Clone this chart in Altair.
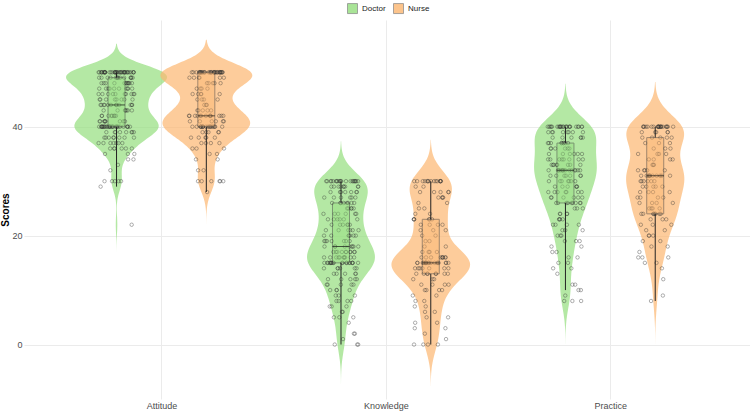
import altair as alt
import pandas as pd
import numpy as np

categories = ["Attitude", "Knowledge", "Practice"]
groups = ["Doctor", "Nurse"]
group_colors = ["#94DE7E", "#FCB670"]

# score values and how many respondents had each score
attitude_doctor_scores = [22, 29, 30, 32, 33, 34, 35, 36, 37, 38, 39, 40, 41, 42, 43, 44, 45, 46, 47, 48, 49, 50]
attitude_doctor_counts = [1, 1, 5, 1, 1, 2, 3, 6, 7, 8, 8, 28, 9, 8, 7, 12, 8, 10, 10, 12, 14, 40]

attitude_nurse_scores = [28, 30, 32, 34, 35, 36, 37, 38, 39, 40, 41, 42, 43, 44, 45, 46, 47, 48, 49, 50]
attitude_nurse_counts = [1, 6, 2, 2, 2, 3, 4, 5, 5, 18, 6, 13, 5, 3, 4, 5, 4, 5, 6, 34]

knowledge_doctor_scores = [0, 1, 2, 4, 5, 6, 7, 8, 9, 10, 11, 12, 13, 14, 15, 16, 17, 18, 19, 20, 21, 22, 23, 24, 25, 26, 27, 28, 29, 30]
knowledge_doctor_counts = [3, 1, 2, 1, 3, 2, 3, 4, 3, 4, 5, 5, 5, 6, 20, 10, 10, 9, 7, 7, 6, 6, 6, 6, 5, 8, 6, 7, 9, 21]

knowledge_nurse_scores = [0, 1, 2, 3, 4, 5, 6, 7, 8, 9, 10, 11, 12, 13, 14, 15, 16, 17, 18, 19, 20, 21, 22, 23, 24, 25, 26, 27, 28, 29, 30]
knowledge_nurse_counts = [4, 1, 1, 2, 2, 2, 2, 2, 2, 2, 4, 4, 3, 8, 7, 19, 9, 4, 2, 2, 2, 3, 4, 6, 2, 2, 2, 4, 5, 2, 15]

practice_doctor_scores = [8, 9, 10, 11, 13, 14, 15, 16, 17, 18, 19, 20, 21, 22, 23, 24, 25, 26, 27, 28, 29, 30, 31, 32, 33, 34, 35, 36, 37, 38, 39, 40]
practice_doctor_counts = [3, 1, 2, 2, 1, 2, 2, 2, 2, 2, 3, 3, 3, 4, 4, 4, 3, 9, 6, 7, 6, 7, 7, 14, 8, 8, 6, 6, 9, 6, 8, 24]

practice_nurse_scores = [8, 9, 12, 14, 15, 16, 17, 18, 19, 20, 21, 22, 23, 24, 25, 26, 27, 28, 29, 30, 31, 32, 33, 34, 35, 36, 37, 38, 39, 40]
practice_nurse_counts = [1, 1, 1, 1, 2, 3, 1, 2, 2, 3, 2, 3, 3, 8, 4, 4, 4, 4, 5, 6, 11, 5, 3, 4, 4, 3, 3, 5, 5, 22]

series = {
    ("Attitude", "Doctor"): (attitude_doctor_scores, attitude_doctor_counts),
    ("Attitude", "Nurse"): (attitude_nurse_scores, attitude_nurse_counts),
    ("Knowledge", "Doctor"): (knowledge_doctor_scores, knowledge_doctor_counts),
    ("Knowledge", "Nurse"): (knowledge_nurse_scores, knowledge_nurse_counts),
    ("Practice", "Doctor"): (practice_doctor_scores, practice_doctor_counts),
    ("Practice", "Nurse"): (practice_nurse_scores, practice_nurse_counts),
}

rows = []
for (cat, grp), (sc, ct) in series.items():
    for s, c in zip(sc, ct):
        rows += [{"cat": cat, "group": grp, "score": s}] * c
df = pd.DataFrame(rows)


def nrd0(x):
    x = np.asarray(x, float)
    sd = x.std(ddof=1)
    q75, q25 = np.percentile(x, [75, 25])
    lo = min(sd, (q75 - q25) / 1.34)
    if lo <= 0:
        lo = sd
    return 0.9 * lo * len(x) ** -0.2


def kde_max(x, bw):
    x = np.asarray(x, float)
    grid = np.linspace(x.min() - 3 * bw, x.max() + 3 * bw, 600)
    d = np.exp(-0.5 * ((grid[:, None] - x[None, :]) / bw) ** 2).sum(1)
    return (d / (len(x) * bw * np.sqrt(2 * np.pi))).max()


bws = {}
peak = 0
for key in series:
    vals = df[(df.cat == key[0]) & (df.group == key[1])].score.values
    bws[key] = nrd0(vals)
    peak = max(peak, kde_max(vals, bws[key]))
K = 0.225 / peak  # ggplot scale="area": widest violin = half of dodged width

cat_list = "[" + ",".join(f"'{c}'" for c in categories) + "]"
pos_expr = f"indexof({cat_list}, datum.cat) + 1 + (datum.group === 'Doctor' ? -0.2 : 0.2)"
label_expr = f"{cat_list}[datum.value - 1]"

FONT = "Liberation Sans"

y_enc = alt.Y(
    "score:Q",
    scale=alt.Scale(domain=[-10, 59.6], nice=False, zero=False),
    axis=alt.Axis(values=[0, 20, 40], title="Scores", grid=True),
)


def x_enc(field):
    return alt.X(
        f"{field}:Q",
        scale=alt.Scale(domain=[0.41, 3.6], nice=False, zero=False),
        axis=alt.Axis(values=[1, 2, 3], labelExpr=label_expr, title=None, grid=True),
    )


color_enc = alt.Color(
    "group:N",
    scale=alt.Scale(domain=groups, range=group_colors),
    legend=alt.Legend(
        title=None,
        orient="none",
        direction="horizontal",
        legendX=323,
        legendY=-17,
        symbolType="square",
        symbolSize=100,
        symbolStrokeColor="#666666",
        symbolStrokeWidth=0.7,
        symbolOpacity=0.8,
        labelFontSize=8,
        labelColor="#222222",
        columnPadding=6,
        labelOffset=4,
    ),
)

base = alt.Chart(df)

layers = []
for (cat, grp) in series:
    bw = bws[(cat, grp)]
    vals = df[(df.cat == cat) & (df.group == grp)].score
    lo, hi = float(vals.min() - 3 * bw), float(vals.max() + 3 * bw)
    v = (
        base.transform_filter(f"datum.cat === '{cat}' && datum.group === '{grp}'")
        .transform_density(
            "score", as_=["score", "density"], groupby=["cat", "group"],
            bandwidth=float(bw), extent=[lo, hi], steps=200,
        )
        .transform_calculate(pos=pos_expr)
        .transform_calculate(
            x1=f"datum.pos - datum.density * {K}",
            x2=f"datum.pos + datum.density * {K}",
        )
        .mark_area(orient="horizontal", opacity=0.7)
        .encode(y=y_enc, x=x_enc("x1"), x2="x2:Q", color=color_enc)
    )
    layers.append(v)

points = (
    base.transform_window(idx="row_number()")
    .transform_calculate(pos=pos_expr)
    .transform_calculate(h="sin(datum.idx * 12.9898) * 43758.5453")
    .transform_calculate(xj="datum.pos + (datum.h - floor(datum.h) - 0.5) * 0.16")
    .mark_point(shape="circle", filled=False, size=12, stroke="#333333",
                strokeWidth=0.6, opacity=0.65)
    .encode(x=x_enc("xj"), y=y_enc)
)
layers.append(points)

boxes = (
    base.transform_calculate(pos=pos_expr)
    .mark_boxplot(
        orient="vertical", extent=1.5, size=17, outliers=False,
        box={"stroke": "#333333", "strokeWidth": 1, "opacity": 0.45},
        median={"color": "#111111", "strokeWidth": 1.8},
        rule={"color": "#222222", "strokeWidth": 1},
    )
    .encode(x=x_enc("pos"), y=y_enc, color=color_enc)
)
layers.append(boxes)

chart = (
    alt.layer(*layers)
    .properties(
        width=750, height=412,
        autosize=alt.AutoSizeParams(type="fit", contains="padding"),
        padding={"left": 0, "top": 20, "right": 0, "bottom": 2},
        background="white",
    )
    .configure_view(stroke=None)
    .configure_axis(
        domain=False, ticks=False, gridColor="#EBEBEB", gridWidth=1,
        labelFont=FONT, labelFontSize=9, labelColor="#4D4D4D", labelPadding=2,
        titleFont=FONT, titleFontSize=10, titleFontWeight="bold", titleColor="#000000",
        titlePadding=1,
    )
    .configure_legend(labelFont=FONT)
)

chart.save("out.html", embed_options={"renderer": "svg", "actions": False})
